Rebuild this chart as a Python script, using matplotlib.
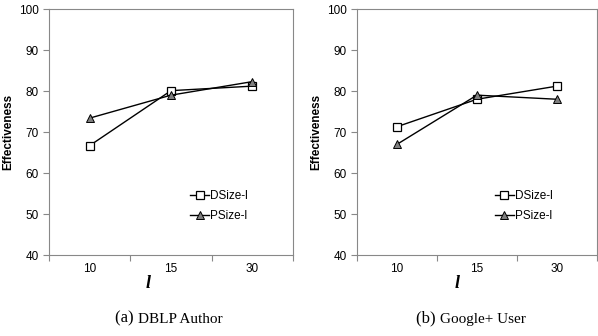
import matplotlib
matplotlib.use('Agg')
import matplotlib.pyplot as plt

# data
categories = ['10', '15', '30']
dblp_dsize = [66.7, 80.1, 81.2]
dblp_psize = [73.4, 79.0, 82.3]
gplus_dsize = [71.3, 78.0, 81.2]
gplus_psize = [67.0, 79.0, 78.0]
series_names = ['DSize-l', 'PSize-l']
captions = ['DBLP Author', 'Google+ User']
letters = ['(a)', '(b)']

plt.rcParams['font.family'] = ['Liberation Sans', 'DejaVu Sans']

fig = plt.figure(figsize=(5.98, 3.36), dpi=100)
ax1 = fig.add_axes([0.082, 0.241, 0.408, 0.732])
ax2 = fig.add_axes([0.597, 0.241, 0.401, 0.732])

panels = [(ax1, dblp_dsize, dblp_psize), (ax2, gplus_dsize, gplus_psize)]
xpos = [i + 0.5 for i in range(len(categories))]
label_x = [0.406, 0.417]
caption_x = [0.231, 0.736]

for k, (ax, d, p) in enumerate(panels):
    ax.plot(xpos, d, '-', color='black', lw=1, marker='s', ms=6,
            mfc='white', mec='black', mew=0.9, label=series_names[0])
    ax.plot(xpos, p, '-', color='black', lw=1, marker='^', ms=6,
            mfc='#7f7f7f', mec='black', mew=0.7, label=series_names[1])
    ax.set_xlim(0, 3)
    ax.set_ylim(40, 100)
    ax.set_yticks([40, 50, 60, 70, 80, 90, 100])
    ax.set_xticks([0, 1, 2, 3])
    ax.set_xticklabels([])
    ax.set_xticks(xpos, minor=True)
    ax.set_xticklabels(categories, minor=True)
    ax.tick_params(axis='x', which='minor', length=0, labelsize=8.5, pad=6)
    ax.tick_params(axis='x', which='major', length=4, color='#888888')
    ax.tick_params(axis='y', length=4, color='#888888', labelsize=8.5, direction='out')
    for s in ax.spines.values():
        s.set_color('#888888')
        s.set_linewidth(0.8)
    ax.set_ylabel('Effectiveness', fontsize=8.5, fontweight='bold', labelpad=3)
    ax.set_xlabel('l', fontsize=13, fontweight='bold', style='italic',
                  family='Liberation Serif')
    ax.xaxis.set_label_coords(label_x[k], -0.08)
    ax.legend(loc='lower right', bbox_to_anchor=(0.84, 0.11), frameon=False,
              fontsize=8.5, handlelength=1.6, handletextpad=0.1,
              labelspacing=0.7, borderpad=0)
    fig.text(caption_x[k], 0.04, letters[k] + ' ', ha='right', va='baseline',
             family='Liberation Serif', fontsize=12)
    fig.text(caption_x[k], 0.04, captions[k], ha='left', va='baseline',
             family='Liberation Serif', fontsize=11)

fig.savefig('out.png', dpi=100)
